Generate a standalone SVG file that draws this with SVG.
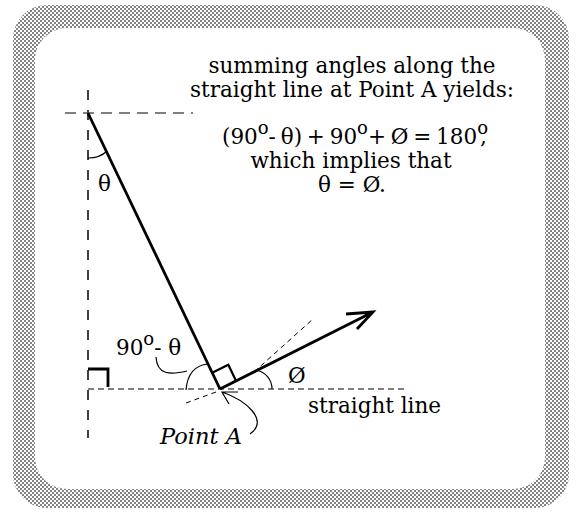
<svg xmlns="http://www.w3.org/2000/svg" width="577" height="512" viewBox="0 0 577 512">
<defs>
<pattern id="chk" patternUnits="userSpaceOnUse" width="4" height="4">
<rect width="4" height="4" fill="#ffffff"/>
<rect x="0" y="0" width="2" height="2" fill="#848484"/>
<rect x="2" y="2" width="2" height="2" fill="#848484"/>
</pattern>
<style>
text{font-family:"DejaVu Serif","Liberation Serif",serif;font-size:21.5px;fill:#000}
.it{font-style:italic;font-size:22.5px}
.sup{font-size:18px}
.eq{word-spacing:-2px}
.thick{stroke:#000;stroke-width:2.8;fill:none;stroke-linecap:butt}
.thin{stroke:#000;stroke-width:1.2;fill:none}
.dash{stroke:#000;stroke-width:1.5;fill:none}
</style>
</defs>
<rect x="0" y="0" width="577" height="512" fill="#fff"/>
<g id="frame">
<rect x="13" y="5" width="556" height="503" rx="34" fill="url(#chk)"/>
<rect x="35" y="28" width="510" height="461" rx="32" fill="#fff"/>
</g>
<g id="connectors">
<path class="dash" d="M88 90 L88 438" stroke-dasharray="10 10"/>
<path d="M65 113 L193 113" stroke="#555" stroke-width="1.5" fill="none" stroke-dasharray="11 7"/>
<path d="M88 389 L407 389" stroke="#000" stroke-width="1.2" fill="none" stroke-dasharray="6 4"/>
<path d="M186 403 L216 392 M254 372 L313 319" stroke="#000" stroke-width="1" fill="none" stroke-dasharray="5 4"/>
<path class="thick" d="M88 113 L220 389"/>
<path class="thick" d="M220 389 L373 312 M346 314 L373 312 L357 329"/>
<path d="M212.2 372.8 L228.3 364.7 L236.1 380.9" stroke="#000" stroke-width="2.2" fill="none"/>
<path class="thick" d="M88 369 L108 369 L108 387"/>
<path class="thin" d="M88 158 Q 100 158 107 151"/>
<path class="thin" d="M186 390 Q 188 366 208 364"/>
<path class="thin" d="M272 389 C 272 380 266 372 256 370"/>
<path class="thin" d="M156 357 C 157 375 170 375 187 371"/>
<path class="thin" d="M238 392 L222 392 L229 404 M222 392 C 245 400 270 420 250 434"/>
</g>
<g id="caption">
<text x="352" y="73" text-anchor="middle">summing angles along the</text>
<text x="352" y="97" text-anchor="middle">straight line at Point A yields:</text>
<text class="eq" x="355" y="144" text-anchor="middle">(90<tspan class="sup" dy="-10">o</tspan><tspan dy="10">- θ) + 90</tspan><tspan class="sup" dy="-10">o</tspan><tspan dy="10">+ Ø = 180</tspan><tspan class="sup" dy="-10">o</tspan><tspan dx="-8" dy="10">,</tspan></text>
<text x="351" y="168" text-anchor="middle">which implies that</text>
<text x="352" y="192" text-anchor="middle">θ = Ø.</text>
</g>
<g id="labels">
<text x="98" y="191">θ</text>
<text x="116" y="355">90<tspan class="sup" dy="-10">o</tspan><tspan dy="10">- θ</tspan></text>
<text x="288" y="383">Ø</text>
<text x="308" y="413">straight line</text>
<text class="it" x="160" y="444">Point A</text>
</g>
</svg>
